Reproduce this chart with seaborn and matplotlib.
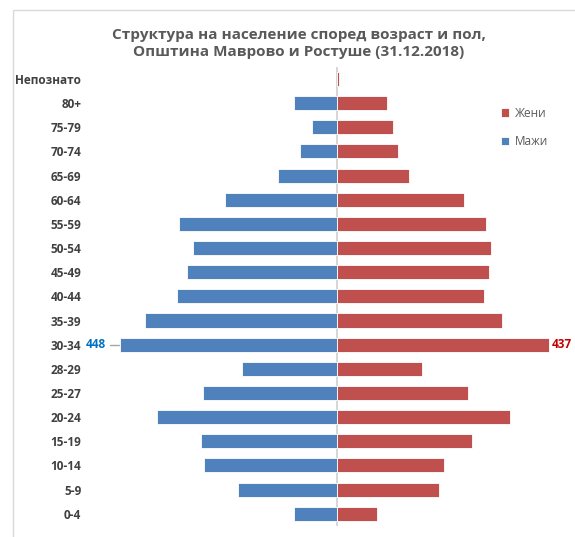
import matplotlib
matplotlib.use("Agg")
import matplotlib.pyplot as plt
import seaborn as sns
import pandas as pd
from matplotlib.patches import Rectangle

# age groups, top to bottom
age_groups = ["Непознато", "80+", "75-79", "70-74", "65-69", "60-64", "55-59",
              "50-54", "45-49", "40-44", "35-39", "30-34", "28-29", "25-27",
              "20-24", "15-19", "10-14", "5-9", "0-4"]
males = [0, 89, 52, 76, 123, 232, 327, 298, 309, 331, 397, 448, 196, 277,
         371, 282, 274, 204, 89]
females = [3, 103, 114, 125, 147, 262, 307, 317, 312, 303, 340, 437, 175, 269,
           357, 277, 219, 209, 82]

BLUE = "#4F81BD"
RED = "#C0504D"
TEXT = "#595959"

sns.set_theme(style="white")
plt.rcParams["font.family"] = ["Open Sans", "DejaVu Sans"]

df = pd.DataFrame({"age": age_groups,
                   "male": [-m for m in males],
                   "female": females})

fig = plt.figure(figsize=(5.75, 5.37), dpi=100)
ax = fig.add_axes([84 / 575, 1 - 525.8 / 537, 486.1 / 575, 458.9 / 537])

sns.barplot(data=df, x="male", y="age", order=age_groups, orient="h",
            color=BLUE, width=0.58, saturation=1, ax=ax,
            edgecolor="white", linewidth=0.6, label="Мажи")
sns.barplot(data=df, x="female", y="age", order=age_groups, orient="h",
            color=RED, width=0.58, saturation=1, ax=ax,
            edgecolor="white", linewidth=0.6, label="Жени")

ax.set_xlim(-522.3, 480)
ax.set_ylim(len(age_groups) - 0.5, -0.5)
ax.axvline(0, color="#D0D0D0", lw=1.2, zorder=0)
for s in ax.spines.values():
    s.set_visible(False)
ax.set_xticks([])
ax.set_xlabel("")
ax.set_ylabel("")
ax.tick_params(axis="y", length=0, pad=2)
for lab in ax.get_yticklabels():
    lab.set_fontweight("bold")
    lab.set_color("#404040")
    lab.set_fontsize(8.5)

# data labels for 30-34
i = age_groups.index("30-34")
ax.plot([-469, -450], [i, i], color="#A6A6A6", lw=1, clip_on=False)
ax.text(-478, i, str(males[i]), ha="right", va="center", color="#0070C0",
        fontweight="bold", fontsize=8.5, clip_on=False)
ax.text(females[i] + 6, i, str(females[i]), ha="left", va="center",
        color="#C00000", fontweight="bold", fontsize=8.5, clip_on=False)

handles, labels = ax.get_legend_handles_labels()
order = [labels.index("Жени"), labels.index("Мажи")]
ax.legend([handles[k] for k in order], [labels[k] for k in order],
          loc="upper left", bbox_to_anchor=(490 / 575, 1 - 96 / 537),
          bbox_transform=fig.transFigure, frameon=False, fontsize=8.5,
          handlelength=0.7, handleheight=0.7, labelspacing=1.3,
          handletextpad=0.5, labelcolor=TEXT)

fig.text(299 / 575, 1 - 43.5 / 537,
         "Структура на население според возраст и пол,\nОпштина Маврово и Ростуше (31.12.2018)",
         ha="center", va="center", fontsize=11, fontweight="bold", color=TEXT,
         linespacing=1.35)

# chart border
fig.patches.append(Rectangle((13 / 575, -0.1), 1.2, 1 - 10 / 537 + 0.1,
                             transform=fig.transFigure, fill=False,
                             edgecolor="#D9D9D9", lw=1))

fig.savefig("out.png", dpi=100)
